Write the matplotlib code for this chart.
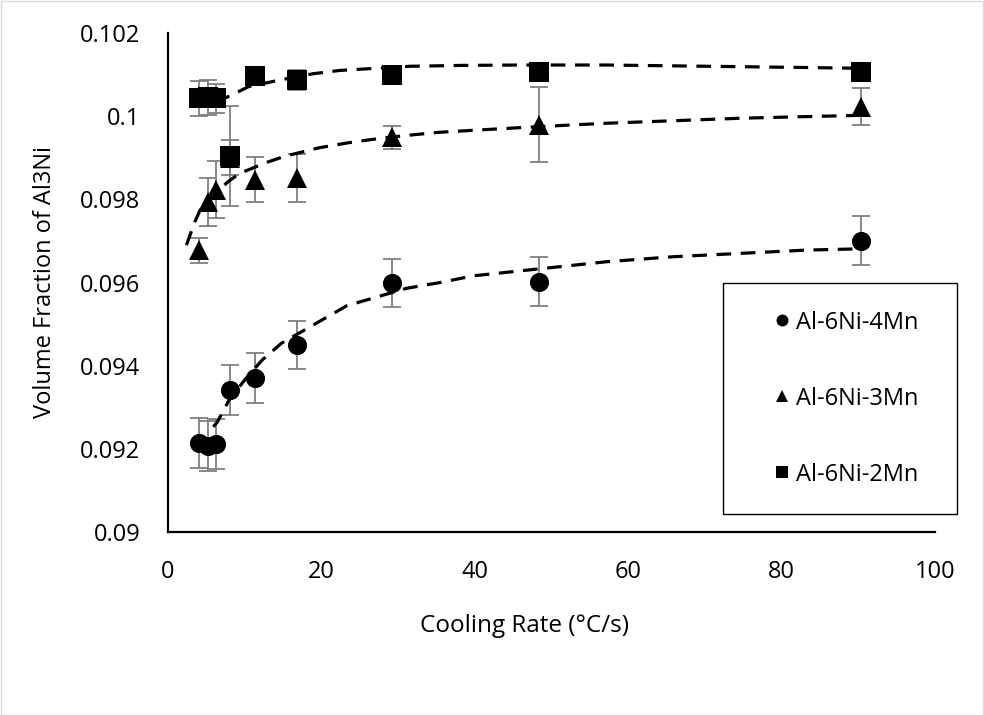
import matplotlib
matplotlib.use("Agg")
import matplotlib.pyplot as plt
from matplotlib.patches import Rectangle

# ---------------- data ----------------
cooling_rate = [4.0, 5.2, 6.3, 8.1, 11.4, 16.8, 29.2, 48.4, 90.4]

vf_4mn = [0.09214, 0.09206, 0.09212, 0.09342, 0.09370, 0.09450, 0.09598, 0.09602, 0.09701]
err_4mn = [0.00060, 0.00060, 0.00060, 0.00060, 0.00060, 0.00058, 0.00058, 0.00059, 0.00059]

vf_3mn = [0.09678, 0.09794, 0.09823, 0.09900, 0.09847, 0.09851, 0.09949, 0.09979, 0.10023]
err_3mn = [0.00030, 0.00057, 0.00068, 0.00042, 0.00054, 0.00058, 0.00028, 0.00090, 0.00045]

vf_2mn = [0.10043, 0.10045, 0.10043, 0.09905, 0.10097, 0.10087, 0.10099, 0.10107, 0.10107]
err_2mn = [0.00042, 0.00043, 0.00035, 0.00120, 0.00010, 0.00025, 0.00010, 0.00010, 0.00010]

# fitted trend curves
trend_x_4mn = [5.9, 6.45, 7.95, 10.1, 12.3, 14.8, 23.3, 31.1, 35.5, 39.8, 48.5, 57.2, 65.9, 74.6, 83.3, 90.4]
trend_y_4mn = [0.09253, 0.09265, 0.09317, 0.09368, 0.09414, 0.09454, 0.09544, 0.09586, 0.09600,
               0.09616, 0.09633, 0.09650, 0.09662, 0.09670, 0.09678, 0.09681]

trend_x_3mn = [2.4, 3.5, 4.4, 7.86, 9.4, 12.9, 15.3, 19.7, 23.5, 27.0, 31.3, 35.2, 40.7, 48.5,
               57.2, 65.9, 74.6, 83.3, 90.4]
trend_y_3mn = [0.09690, 0.09746, 0.09783, 0.09843, 0.09863, 0.09889, 0.09904, 0.09924, 0.09936,
               0.09945, 0.09954, 0.09961, 0.09967, 0.09975, 0.09983, 0.09989, 0.09995, 0.09999, 0.10002]

trend_x_2mn = [6.3, 7.4, 9.2, 10.5, 14.6, 18.9, 22.4, 26.1, 31.6, 38.1, 45.9, 57.2, 65.9, 74.6, 83.3, 90.4]
trend_y_2mn = [0.10032, 0.10043, 0.10059, 0.10071, 0.10087, 0.10102, 0.10110, 0.10114, 0.10120,
               0.10122, 0.10123, 0.10123, 0.10121, 0.10119, 0.10117, 0.10115]

labels = ["Al-6Ni-4Mn", "Al-6Ni-3Mn", "Al-6Ni-2Mn"]
x_ticks = [0, 20, 40, 60, 80, 100]
y_ticks = [0.09, 0.092, 0.094, 0.096, 0.098, 0.1, 0.102]
y_tick_labels = ["0.09", "0.092", "0.094", "0.096", "0.098", "0.1", "0.102"]

# ---------------- style ----------------
plt.rcParams["font.family"] = ["Open Sans", "DejaVu Sans"]
FS = 17

W, H = 984, 715
fig = plt.figure(figsize=(W / 100, H / 100), dpi=100)
fig.patch.set_facecolor("white")
fig.add_artist(Rectangle((0.5 / W, 0.5 / H), 1 - 1.5 / W, 1 - 1.5 / H, transform=fig.transFigure,
                         fill=False, edgecolor="#d9d9d9", lw=1.0))

L, R, T, B = 168, 935, 33, 532
ax = fig.add_axes([L / W, 1 - B / H, (R - L) / W, (B - T) / H])

series = [
    (vf_4mn, err_4mn, "o", 13.8, trend_x_4mn, trend_y_4mn),
    (vf_3mn, err_3mn, "^", 14.0, trend_x_3mn, trend_y_3mn),
    (vf_2mn, err_2mn, "s", 14.0, trend_x_2mn, trend_y_2mn),
]

handles = []
for (vals, errs, mk, ms, tx, ty), lab in zip(series, labels):
    ax.errorbar(cooling_rate, vals, yerr=errs, fmt="none", ecolor="#7f7f7f",
                elinewidth=1.3, capsize=6.5, capthick=1.3, zorder=2)
    h, = ax.plot(cooling_rate, vals, ls="none", marker=mk, ms=ms, color="black",
                 markeredgewidth=0, zorder=3, label=lab)
    handles.append(h)
    ax.plot(tx, ty, color="black", lw=2.3, ls=(0, (4.6, 3.0)), zorder=4,
            solid_capstyle="butt", dash_capstyle="butt")

ax.set_xlim(0, 100)
ax.set_ylim(0.09, 0.102)
ax.set_xticks(x_ticks)
ax.set_xticklabels([str(v) for v in x_ticks])
ax.set_yticks(y_ticks)
ax.set_yticklabels(y_tick_labels)
ax.tick_params(length=0, labelsize=FS, colors="black")
ax.tick_params(axis="y", pad=20)
ax.tick_params(axis="x", pad=20)

for s in ["top", "right"]:
    ax.spines[s].set_visible(False)
for s in ["left", "bottom"]:
    ax.spines[s].set_color("black")
    ax.spines[s].set_linewidth(1.6)

ax.set_xlabel("Cooling Rate (°C/s)", fontsize=17.5)
ax.set_ylabel("Volume Fraction of Al3Ni", fontsize=17)
ax.xaxis.set_label_coords((524.5 - L) / (R - L), (B - 626) / (B - T))
ax.xaxis.label.set_va("center")
ax.yaxis.set_label_coords((45 - L) / (R - L), 0.5)
ax.yaxis.label.set_va("center")
ax.yaxis.label.set_ha("center")

# legend box: x 723..957, y 283..508 (pixels)
lx0 = (723 - L) / (R - L)
ly1 = (B - 283) / (B - T)
ly0 = (B - 508) / (B - T)
leg = ax.legend(handles=handles, loc="upper left", bbox_to_anchor=(lx0, ly0, (957 - 723) / (R - L), ly1 - ly0),
                mode="expand", fontsize=FS, markerscale=0.62, frameon=True, fancybox=False,
                edgecolor="black", framealpha=1, borderpad=1.17, labelspacing=2.2,
                handlelength=2.66, handletextpad=-0.74, borderaxespad=0)
leg.get_frame().set_linewidth(1.0)

fig.savefig("out.png", dpi=100)
